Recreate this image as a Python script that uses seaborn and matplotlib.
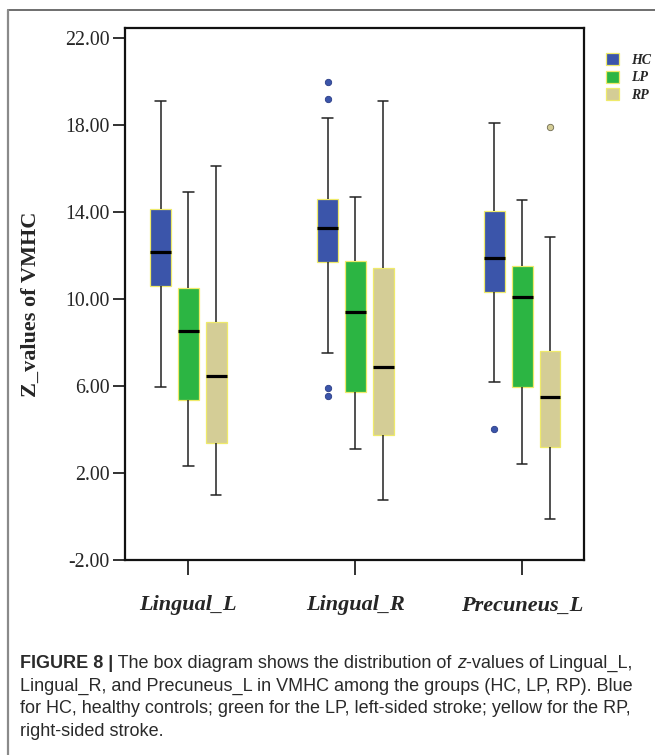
import pandas as pd
import seaborn as sns
import matplotlib.pyplot as plt
import matplotlib.patches as mpatches
from matplotlib.lines import Line2D

regions = ["Lingual_L", "Lingual_R", "Precuneus_L"]
groups = ["HC", "LP", "RP"]

# lower whisker, Q1, median, Q3, upper whisker per region
hc_stats = [[5.95, 10.60, 12.15, 14.15, 19.10],
            [7.50, 11.70, 13.28, 14.58, 18.31],
            [6.20, 10.31, 11.89, 14.05, 18.08]]
lp_stats = [[2.30, 5.35, 8.55, 10.50, 14.93],
            [3.12, 5.71, 9.40, 11.73, 14.68],
            [2.40, 5.94, 10.08, 11.52, 14.54]]
rp_stats = [[0.97, 3.39, 6.46, 8.93, 16.13],
            [0.76, 3.76, 6.86, 11.41, 19.12],
            [-0.11, 3.20, 5.49, 7.62, 12.87]]
hc_outliers = [[], [19.96, 19.20, 5.92, 5.55], [4.01]]
lp_outliers = [[], [], []]
rp_outliers = [[], [], [17.89]]

box_colors = {"HC": "#3b55aa", "LP": "#2cb543", "RP": "#d4cd96"}
flier_edges = {"HC": "#2a3c86", "LP": "#1d7a2c", "RP": "#6e6a50"}
box_edge = "#efea6a"

y_ticks = [-2, 2, 6, 10, 14, 18, 22]

caption_lines = [
    [("FIGURE 8 |", "bold"), (" The box diagram shows the distribution of ", "normal"),
     ("z", "italic"), ("-values of Lingual_L,", "normal")],
    [("Lingual_R, and Precuneus_L in VMHC among the groups (HC, LP, RP). Blue", "normal")],
    [("for HC, healthy controls; green for the LP, left-sided stroke; yellow for the RP,", "normal")],
    [("right-sided stroke.", "normal")],
]


def box_sample(stats, fliers):
    # sample whose boxplot stats equal the five numbers
    lo, q1, med, q3, hi = stats
    low = sorted(f for f in fliers if f < lo)
    high = sorted(f for f in fliers if f > hi)
    m = max(len(low), len(high)) + 1
    return (low + [lo] + [q1] * (m - len(low)) + [med] * m
            + [q3] * (2 * m - len(high) - 1) + [hi] + high)


rows = []
for g, st, outl in zip(groups, [hc_stats, lp_stats, rp_stats],
                       [hc_outliers, lp_outliers, rp_outliers]):
    for r, s, o in zip(regions, st, outl):
        for v in box_sample(s, o):
            rows.append({"region": r, "group": g, "value": v})
df = pd.DataFrame(rows)

sns.set_style("ticks")
plt.rcParams["font.family"] = ["Liberation Serif", "DejaVu Serif"]

fig = plt.figure(figsize=(6.55, 7.55), dpi=100)
ax = fig.add_axes([125 / 655, 1 - 560 / 755, 459 / 655, 532 / 755])

sns.boxplot(data=df, x="region", y="value", hue="group",
            order=regions, hue_order=groups, palette=box_colors, saturation=1,
            width=0.5, gap=0.25, linewidth=1.1, linecolor="#222222",
            boxprops=dict(edgecolor=box_edge, linewidth=0.9),
            medianprops=dict(color="black", linewidth=2.3),
            flierprops=dict(marker="o", markersize=4.6, markeredgewidth=0.6),
            legend=False, ax=ax)

# colour the outlier dots like their boxes (hue slot from the dodge offset)
for ln in ax.lines:
    xs = ln.get_xdata()
    if ln.get_marker() == "o" and len(xs):
        off = xs[0] - round(xs[0])
        g = groups[int(round(off / (0.5 / 3))) + 1]
        ln.set_markerfacecolor(box_colors[g])
        ln.set_markeredgecolor(flier_edges[g])

ax.set_ylim(-2, 22 + 10 / 21.75)
ax.set_xlim(-0.38, 2.37)
ax.set_yticks(y_ticks)
ax.set_yticklabels([f"{t:.2f}" for t in y_ticks], fontsize=14.3)
ax.set_xticks(range(len(regions)))
ax.set_xticklabels(regions, fontsize=16, fontweight="bold", fontstyle="italic")
ax.tick_params(axis="y", direction="out", length=9, width=1.3, pad=2, color="#222222")
ax.tick_params(axis="x", direction="out", length=10.5, width=1.3, pad=15, color="#222222")
ax.set_xlabel("")
ax.set_ylabel("Z_values of VMHC", fontsize=16, fontweight="bold")
ax.yaxis.set_label_coords(-0.183, 0.48)
for sp in ax.spines.values():
    sp.set_visible(True)
    sp.set_linewidth(1.6)
    sp.set_color("#111111")

handles = [mpatches.Patch(facecolor=box_colors[g], edgecolor=box_edge, linewidth=0.9, label=g)
           for g in groups]
fig.legend(handles=handles, loc="upper left", bbox_to_anchor=(606 / 655, 1 - 53 / 755),
           frameon=False, handlelength=0.95, handleheight=0.95, handletextpad=0.85,
           labelspacing=0.28, borderpad=0, borderaxespad=0,
           prop=dict(family="Liberation Serif", weight="bold", style="italic", size=10))

# panel frame (top and left border)
fig.add_artist(Line2D([8 / 655, 1], [1 - 9.5 / 755, 1 - 9.5 / 755], color="#555555", linewidth=1.2))
fig.add_artist(Line2D([8 / 655, 8 / 655], [0, 1 - 9.5 / 755], color="#8a8a8a", linewidth=1.6))

# caption with mixed font styles
renderer = fig.canvas.get_renderer()
cap_font = ["Liberation Sans", "DejaVu Sans"]
for i, pieces in enumerate(caption_lines):
    x = 20 / 655
    y = 1 - (668 + i * 22.7) / 755
    for txt, style in pieces:
        t = fig.text(x, y, txt, fontsize=13.0, family=cap_font, color="#2a2a2a",
                     fontweight="bold" if style == "bold" else "normal",
                     fontstyle="italic" if style == "italic" else "normal",
                     va="baseline", ha="left")
        x += t.get_window_extent(renderer).width / fig.bbox.width

fig.savefig("out.png", dpi=100)
